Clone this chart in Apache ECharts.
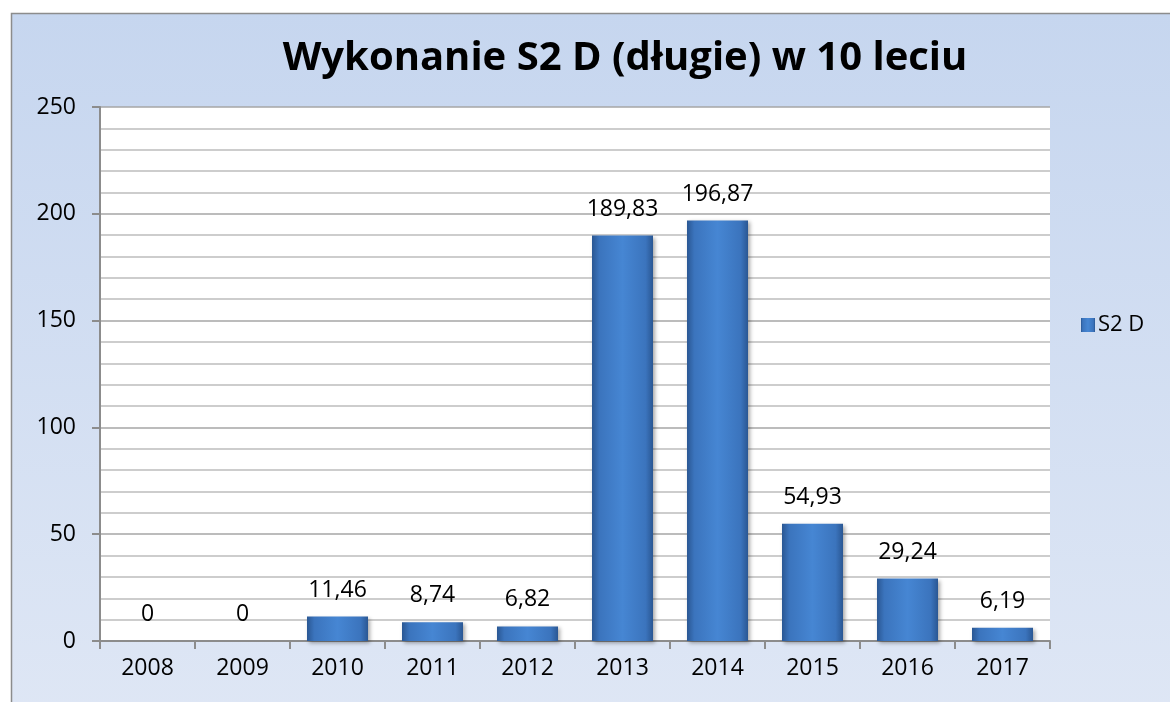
<!DOCTYPE html>
<html>
<head>
<meta charset="utf-8">
<script src="https://cdn.jsdelivr.net/npm/echarts@6/dist/echarts.min.js"></script>
<style>
  body { margin: 0; background: #fff; }
  #chart { width: 1170px; height: 702px; }
</style>
</head>
<body>
<div id="chart"></div>
<script>
// dane z wykresu
var years = ["2008", "2009", "2010", "2011", "2012", "2013", "2014", "2015", "2016", "2017"];
var values = [0, 0, 11.46, 8.74, 6.82, 189.83, 196.87, 54.93, 29.24, 6.19];
var seriesName = "S2 D";
var titleText = "Wykonanie S2 D (długie) w 10 leciu";

var font = "'Open Sans', 'Noto Sans', sans-serif";

var barColor = new echarts.graphic.LinearGradient(0, 0, 1, 0, [
  { offset: 0, color: "#2a5793" },
  { offset: 0.12, color: "#3b74bd" },
  { offset: 0.5, color: "#4686d3" },
  { offset: 0.88, color: "#3b74bd" },
  { offset: 1, color: "#2a5793" }
]);

var chart = echarts.init(document.getElementById("chart"));
var option = {
  animation: false,
  graphic: [
    {
      type: "rect",
      z: -10,
      shape: { x: 11.5, y: 13.5, width: 1200, height: 720 },
      style: {
        fill: new echarts.graphic.LinearGradient(0, 0, 0, 1, [
          { offset: 0, color: "#c6d6ef" },
          { offset: 1, color: "#dfe7f5" }
        ]),
        stroke: "#8c8c8c",
        lineWidth: 1.5
      }
    },
    {
      type: "rect",
      z: -5,
      shape: { x: 100, y: 107, width: 950, height: 534 },
      style: { fill: "#ffffff" }
    }
  ],
  title: {
    text: titleText,
    left: 620,
    top: 34,
    textAlign: "center",
    textStyle: {
      fontFamily: font,
      fontWeight: "bold",
      fontSize: 40,
      color: "#000"
    }
  },
  legend: {
    data: [seriesName],
    left: 1076,
    top: 309,
    itemWidth: 14,
    itemHeight: 14,
    itemGap: 4,
    icon: "rect",
    textStyle: { fontFamily: font, fontSize: 22, color: "#000", padding: [0, 0, 0, -2] }
  },
  grid: {
    left: 100,
    right: 120,
    top: 107,
    bottom: 61,
    containLabel: false
  },
  xAxis: {
    type: "category",
    data: years,
    axisLine: { lineStyle: { color: "#8c8c8c", width: 2 } },
    axisTick: { show: true, length: 8, alignWithLabel: false, lineStyle: { color: "#8c8c8c", width: 2 } },
    axisLabel: { fontFamily: font, fontSize: 23, color: "#000", margin: 16 },
    splitLine: { show: false }
  },
  yAxis: {
    type: "value",
    min: 0,
    max: 250,
    interval: 50,
    axisLine: { show: true, lineStyle: { color: "#8c8c8c", width: 2 } },
    axisTick: { show: true, length: 8, lineStyle: { color: "#8c8c8c", width: 2 } },
    axisLabel: { fontFamily: font, fontSize: 23, color: "#000", margin: 24 },
    splitLine: { show: true, lineStyle: { color: "#a6a6a6", width: 1.5 } },
    minorTick: { show: false, splitNumber: 5 },
    minorSplitLine: { show: true, lineStyle: { color: "#bdbdbd", width: 1.5 } }
  },
  series: [
    {
      name: seriesName,
      type: "bar",
      data: values,
      barWidth: 61,
      itemStyle: {
        color: barColor,
        borderWidth: 0,
        shadowColor: "rgba(0,0,0,0.35)",
        shadowBlur: 4,
        shadowOffsetX: 2,
        shadowOffsetY: 2
      },
      label: {
        show: true,
        position: "top",
        distance: 15,
        fontFamily: font,
        fontSize: 23,
        color: "#000",
        formatter: function (p) {
          return String(p.value).replace(".", ",");
        }
      }
    }
  ]
};
chart.setOption(option);
</script>
</body>
</html>
